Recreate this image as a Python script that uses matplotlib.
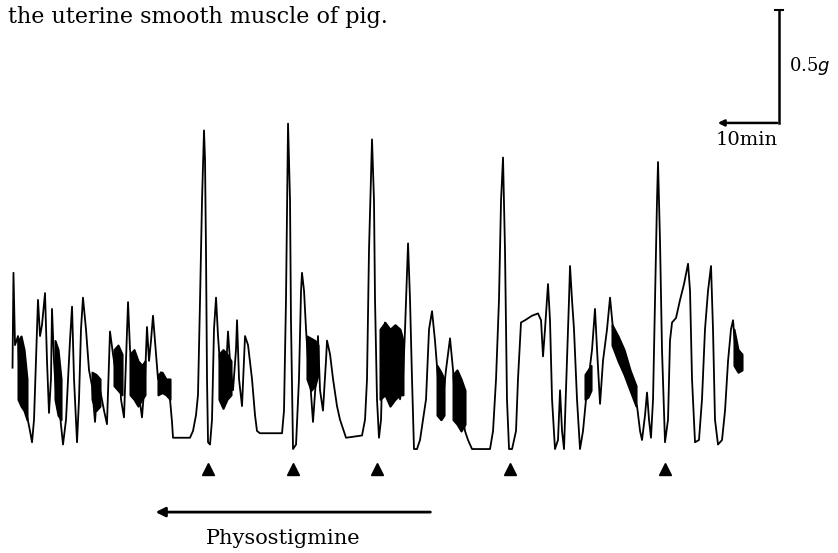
import matplotlib.pyplot as plt

# tension trace: time (min) and tension (g)
trace_t = [0.08, 0.23, 0.47, 0.94, 1.25, 1.72, 2.19, 2.81, 3.13, 3.44, 3.91, 4.06, 4.38, 4.69,
           5.16, 5.47, 5.78, 6.09, 6.25, 6.56, 6.88, 7.19, 7.50, 7.97, 8.44, 9.06, 9.38, 9.69,
           10.16, 10.47, 10.78, 11.09, 11.56, 12.03, 12.50, 12.97, 13.44, 13.91, 14.38, 14.84,
           15.16, 15.31, 15.78, 16.25, 16.72, 17.03, 17.50, 17.81, 18.13, 18.44, 18.91, 19.38,
           19.84, 20.31, 20.78, 21.09, 21.41, 21.72, 22.03, 22.34, 22.81, 23.28, 23.75, 24.22,
           24.69, 25.00, 25.16, 27.81, 28.28, 28.75, 29.06, 29.38, 29.69, 30.00, 30.16, 30.31,
           30.47, 30.63, 30.94, 31.25, 31.56, 31.88, 32.19, 32.66, 33.13, 33.44, 33.75, 34.06,
           34.53, 35.00, 35.16, 35.47, 35.94, 36.25, 36.41, 36.88, 37.50, 37.97, 38.28, 38.75,
           42.19, 42.50, 42.81, 43.13, 43.44, 43.59, 43.91, 44.38, 44.84, 45.16, 45.31, 45.63,
           45.94, 46.25, 46.56, 47.03, 47.50, 47.81, 48.13, 48.59, 49.06, 49.22, 49.69, 50.16,
           50.78, 51.25, 51.72, 52.19, 54.69, 55.16, 55.47, 55.78, 56.25, 56.56, 56.72, 57.03,
           57.34, 57.66, 57.97, 58.28, 58.59, 59.06, 59.53, 60.00, 60.31, 60.63, 61.09, 61.41,
           61.88, 62.19, 62.50, 62.81, 63.28, 63.75, 64.69, 65.16, 65.63, 66.09, 66.56, 67.03,
           67.34, 67.81, 68.44, 68.91, 69.38, 69.84, 70.31, 70.78, 71.25, 71.88, 74.69, 75.16,
           75.63, 76.09, 76.41, 76.72, 77.03, 77.34, 77.66, 78.13, 78.75, 79.06, 79.53, 80.16,
           81.25, 82.19, 82.66, 82.97, 83.28, 83.75, 84.06, 84.38, 84.84, 85.31, 85.63, 85.94,
           86.25, 86.72, 87.03, 87.19, 87.50, 87.81, 88.28, 88.75, 89.22, 89.69, 90.16, 90.63,
           91.09, 91.41, 91.88, 92.34, 92.97, 93.44, 93.91, 94.69, 95.47, 96.25, 97.03, 97.66,
           98.13, 98.44, 98.91, 99.22, 99.53, 99.84, 100.16, 100.47, 100.78, 100.94, 101.25,
           101.56, 102.03, 102.50, 102.81, 103.13, 103.75, 104.38, 105.00, 105.63, 105.94,
           106.25, 106.72, 107.34, 107.81, 108.28, 108.75, 109.22, 109.53, 109.84, 110.31,
           110.94, 111.41, 111.88, 112.34, 112.66, 112.97, 113.44, 114.06]
trace_g = [0.32, 0.74, 0.42, 0.46, 0.18, 0.27, 0.13, 0.04, -0.01, 0.09, 0.49, 0.62, 0.46, 0.51,
           0.65, 0.35, 0.12, 0.27, 0.58, 0.35, 0.20, 0.31, 0.11, -0.02, 0.09, 0.44, 0.59, 0.27,
           -0.01, 0.18, 0.49, 0.63, 0.49, 0.31, 0.24, 0.08, 0.27, 0.20, 0.13, 0.07,
           0.35, 0.48, 0.38, 0.29, 0.40, 0.18, 0.10, 0.35, 0.61, 0.40, 0.27, 0.35,
           0.20, 0.10, 0.27, 0.50, 0.35, 0.44, 0.55, 0.44, 0.27, 0.30, 0.22, 0.24,
           0.18, 0.08, 0.01, 0.01, 0.04, 0.11, 0.20, 0.62, 1.06, 1.37, 1.24, 0.84,
           0.27, -0.01, -0.02, 0.09, 0.49, 0.63, 0.46, 0.27, 0.15, 0.31, 0.48, 0.35,
           0.22, 0.40, 0.53, 0.27, 0.15, 0.35, 0.46, 0.42, 0.27, 0.11, 0.04, 0.03,
           0.03, 0.13, 0.62, 1.40, 1.06, 0.53, -0.04, -0.02, 0.27, 0.66, 0.74, 0.66,
           0.49, 0.35, 0.27, 0.08, 0.27, 0.46, 0.22, 0.13, 0.35, 0.44, 0.38, 0.27,
           0.15, 0.09, 0.05, 0.01, 0.02, 0.09, 0.27, 0.84, 1.33, 1.06, 0.62, 0.18,
           0.01, 0.09, 0.44, 0.52, 0.35, 0.18, 0.27, 0.46, 0.35, 0.18, 0.27, 0.49,
           0.87, 0.62, 0.27, -0.04, -0.04, 0.00, 0.18, 0.49, 0.57, 0.44, 0.27, 0.09,
           0.18, 0.31, 0.45, 0.31, 0.09, 0.22, 0.13, 0.04, 0.00, -0.04, -0.04, 0.04,
           0.27, 0.62, 1.06, 1.25, 0.84, 0.18, -0.04, -0.04, 0.04, 0.27, 0.52, 0.53,
           0.55, 0.56, 0.53, 0.37, 0.49, 0.69, 0.53, 0.18, -0.04, 0.00, 0.22, 0.04,
           -0.04, 0.35, 0.62, 0.77, 0.62, 0.49, 0.18, -0.04, 0.04, 0.18, 0.29, 0.40,
           0.58, 0.40, 0.16, 0.35, 0.49, 0.63, 0.49, 0.40, 0.33, 0.27, 0.20, 0.15,
           0.04, 0.00, 0.11, 0.21, 0.09, 0.01, 0.18, 0.62, 1.06, 1.23, 0.88,
           0.40, -0.01, 0.09, 0.44, 0.52, 0.54, 0.62, 0.69, 0.78, 0.66,
           0.27, -0.01, 0.00, 0.18, 0.49, 0.66, 0.77, 0.49, 0.09, -0.02,
           0.00, 0.13, 0.35, 0.49, 0.53, 0.42, 0.35, 0.33]

# fast bursts that print as solid black: (time, low, high)
bursts = [
    [(0.94, 0.18, 0.44), (1.41, 0.15, 0.46), (1.88, 0.13, 0.40), (2.34, 0.09, 0.27)],
    [(6.72, 0.18, 0.44), (7.19, 0.11, 0.40), (7.66, 0.09, 0.27)],
    [(12.50, 0.18, 0.30), (13.13, 0.13, 0.29), (13.75, 0.15, 0.27)],
    [(15.94, 0.24, 0.40), (16.56, 0.22, 0.42), (17.19, 0.20, 0.38)],
    [(18.44, 0.20, 0.38), (19.06, 0.18, 0.40), (19.69, 0.15, 0.35), (20.31, 0.18, 0.33), (20.78, 0.20, 0.35)],
    [(22.81, 0.20, 0.29), (23.44, 0.21, 0.30), (24.06, 0.20, 0.27), (24.69, 0.18, 0.27)],
    [(32.34, 0.18, 0.38), (32.97, 0.14, 0.40), (33.59, 0.18, 0.38), (34.22, 0.20, 0.35)],
    [(46.09, 0.27, 0.46), (46.72, 0.22, 0.45), (47.34, 0.24, 0.44), (47.81, 0.29, 0.42)],
    [(57.50, 0.18, 0.49), (58.28, 0.20, 0.52), (59.06, 0.15, 0.49), (59.84, 0.18, 0.51),
     (60.63, 0.20, 0.49), (61.09, 0.20, 0.44)],
    [(66.41, 0.11, 0.33), (67.03, 0.09, 0.30), (67.50, 0.11, 0.27)],
    [(68.91, 0.09, 0.29), (69.53, 0.07, 0.31), (70.16, 0.04, 0.27), (70.78, 0.07, 0.22)],
    [(89.53, 0.18, 0.29), (90.00, 0.19, 0.31), (90.47, 0.22, 0.33)],
    [(93.75, 0.42, 0.51), (94.69, 0.35, 0.46), (95.63, 0.29, 0.40), (96.56, 0.22, 0.31), (97.50, 0.15, 0.24)],
    [(112.81, 0.33, 0.49), (113.44, 0.30, 0.40), (114.06, 0.31, 0.38)],
]

# drug applications (arrowheads under the trace)
dose_t = [30.6, 43.9, 57.0, 77.8, 102.0]
physo_start, physo_end = 65.8, 22.0

serif = 'DejaVu Serif'

fig = plt.figure(figsize=(8.38, 5.53), dpi=100)
ax = fig.add_axes([0, 0, 1, 1])
ax.set_xlim(-1.875, 129.06)
ax.set_ylim(-0.5, 1.947)
ax.axis('off')

# the recording
ax.plot(trace_t, trace_g, color='black', lw=1.3, solid_joinstyle='round')
for b in bursts:
    bt = [p[0] for p in b]
    lo = [p[1] for p in b]
    hi = [p[2] for p in b]
    ax.fill_between(bt, lo, hi, color='black', lw=1.5)

# dose markers
ax.plot(dose_t, [-0.128] * len(dose_t), linestyle='none', marker='^', color='black', markersize=8.5)

# physostigmine arrow
ax.annotate('', xy=(physo_end, -0.319), xytext=(physo_start, -0.319),
            arrowprops=dict(arrowstyle='-|>', color='black', lw=2, mutation_scale=14))
ax.text(42.3, -0.434, 'Physostigmine', ha='center', va='center', fontsize=15, family=serif)

# calibration bar: 0.5 g and 10 min
cal_t, cal_g = 119.84, 1.403
ax.plot([cal_t, cal_t], [cal_g, cal_g + 0.5], color='black', lw=1.8)
ax.plot([cal_t - 0.6, cal_t + 0.6], [cal_g + 0.5, cal_g + 0.5], color='black', lw=1.5)
ax.annotate('', xy=(cal_t - 10, cal_g), xytext=(cal_t + 0.15, cal_g),
            arrowprops=dict(arrowstyle='-|>', color='black', lw=1.8, mutation_scale=9))
ax.text(cal_t + 1.6, cal_g + 0.25, '0.5$\\mathit{g}$', ha='left', va='center', fontsize=13,
        family=serif)
ax.text(cal_t - 5, cal_g - 0.075, '10min', ha='center', va='center', fontsize=14, family=serif)

fig.text(8 / 838, 1 - 17 / 553, 'the uterine smooth muscle of pig.', ha='left', va='center',
         fontsize=16, family=serif)

plt.savefig('out.png', dpi=100)
